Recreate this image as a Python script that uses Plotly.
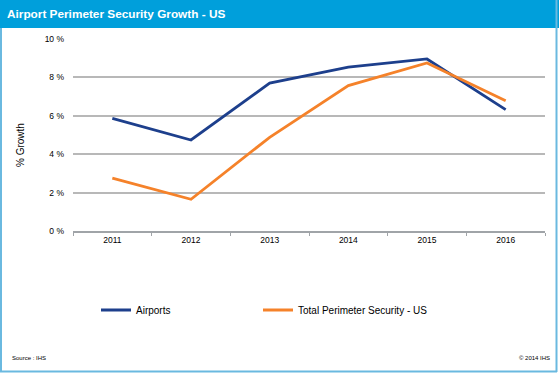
import plotly.graph_objects as go

years = ["2011", "2012", "2013", "2014", "2015", "2016"]
airports = [5.87, 4.74, 7.70, 8.54, 8.96, 6.32]
total_perimeter = [2.75, 1.65, 4.88, 7.57, 8.75, 6.78]
y_ticks = [0, 2, 4, 6, 8, 10]
y_tick_labels = ["0 %", "2 %", "4 %", "6 %", "8 %", "10 %"]

W, H = 559, 374
L, R, T, B = 73, 545, 39, 231  # plot area in pixels

def px(x):
    return (x - L) / (R - L)

def py(y):
    return (B - y) / (B - T)

FONT = "Liberation Sans, Arial, sans-serif"

fig = go.Figure()
fig.add_trace(go.Scatter(x=years, y=airports, mode="lines", name="Airports",
                         line=dict(color="#1d3f8c", width=2.8), legend="legend"))
fig.add_trace(go.Scatter(x=years, y=total_perimeter, mode="lines",
                         name="Total Perimeter Security - US",
                         line=dict(color="#f5822a", width=2.8), legend="legend2"))

shapes = []
# title bar
shapes.append(dict(type="rect", xref="paper", yref="paper",
                   x0=px(0), x1=px(W), y0=py(28), y1=py(0),
                   fillcolor="#009fdb", line=dict(width=0), layer="below"))
# frame borders
for (x0, y0, x1, y1) in [(1, 28, 1, 372), (556.5, 0, 556.5, 372), (0, 371.5, 557, 371.5)]:
    shapes.append(dict(type="line", xref="paper", yref="paper",
                       x0=px(x0), x1=px(x1), y0=py(y0), y1=py(y1),
                       line=dict(color="#6ab9e0", width=2)))
# darker gridlines
for v in [4, 6]:
    shapes.append(dict(type="line", xref="paper", yref="y", x0=0, x1=1, y0=v, y1=v,
                       line=dict(color="#5d6770", width=1), layer="below"))

annotations = [
    dict(text="<b>Airport Perimeter Security Growth - US</b>", xref="paper", yref="paper",
         x=px(5), y=py(14), xanchor="left", yanchor="middle", showarrow=False,
         font=dict(family=FONT, size=11.8, color="white")),
    dict(text="% Growth", xref="paper", yref="paper", x=px(20), y=py(145),
         xanchor="center", yanchor="middle", showarrow=False, textangle=-90,
         font=dict(family=FONT, size=10, color="black")),
    dict(text="Source : IHS", xref="paper", yref="paper", x=px(10), y=py(358),
         xanchor="left", yanchor="middle", showarrow=False,
         font=dict(family=FONT, size=6, color="black")),
    dict(text="© 2014 IHS", xref="paper", yref="paper", x=px(552), y=py(358),
         xanchor="right", yanchor="middle", showarrow=False,
         font=dict(family=FONT, size=6, color="black")),
]

legend_common = dict(orientation="h", yanchor="middle", xanchor="left", y=py(310),
                     font=dict(family=FONT, size=10, color="black"),
                     itemwidth=30, bgcolor="rgba(0,0,0,0)")

fig.update_layout(
    width=W, height=H,
    margin=dict(l=L, r=W - R, t=T, b=H - B, pad=0),
    paper_bgcolor="white", plot_bgcolor="white",
    font=dict(family=FONT, size=9, color="black"),
    shapes=shapes, annotations=annotations,
    showlegend=True,
    legend=dict(x=px(96), **legend_common),
    legend2=dict(x=px(258), **legend_common),
    xaxis=dict(type="category", range=[-0.5, 5.5], showgrid=False,
               showline=True, linecolor="#a0a4a8", linewidth=1.5,
               ticks="outside", tickson="boundaries", ticklen=3, tickcolor="#a0a4a8",
               tickfont=dict(family=FONT, size=8.5, color="black"), fixedrange=True),
    yaxis=dict(range=[0, 10], tickvals=y_ticks, ticktext=y_tick_labels,
               showgrid=True, gridcolor="#b8b8b8", gridwidth=2, zeroline=False,
               showline=False, ticks="", ticklabelstandoff=8,
               tickfont=dict(family=FONT, size=8.5, color="black"),
               fixedrange=True),
)

fig.write_html("out.html", config={"displayModeBar": False},
               post_script="document.body.style.margin='0px';document.body.style.padding='0px';")
